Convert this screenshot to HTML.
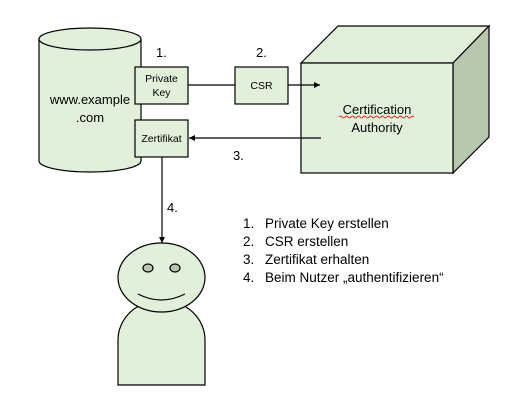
<!DOCTYPE html>
<html><head><meta charset="utf-8"><style>
body{margin:0;background:#fff;}
svg{display:block;font-family:"Liberation Sans",sans-serif;}
</style></head><body>
<svg width="522" height="406" viewBox="0 0 522 406" xmlns="http://www.w3.org/2000/svg">
<defs><marker id="a" markerWidth="6" markerHeight="6" refX="5" refY="3" orient="auto"><path d="M0,0.5 L5,3 L0,5.5z" fill="#000"/></marker></defs>
<g stroke="#000" stroke-width="1.2" fill="#e2efda">
<path d="M39,39 V161 A51,11 0 0 0 141,161 V39"/>
<ellipse cx="90" cy="39" rx="51" ry="11"/>
<path d="M301,63 L338,26 L489,26 L453,63 Z"/>
<path d="M453,63 L489,26 L489,137 L453,173 Z" fill="#b8c6ad"/>
<rect x="301" y="63" width="152" height="110"/>
<rect x="135" y="67" width="53" height="37"/>
<rect x="135" y="120" width="53" height="37"/>
<rect x="235" y="67" width="53" height="37"/>
<path d="M118,385 V340 A43.5,40 0 0 1 205,340 V385 Z"/>
<ellipse cx="161.5" cy="277.5" rx="43.5" ry="34.5"/>
<ellipse cx="148" cy="268" rx="5" ry="4" fill="#bcc5b2"/>
<ellipse cx="175" cy="268" rx="5" ry="4" fill="#bcc5b2"/>
<path d="M138,294 Q161,306 185,294" fill="none"/>
</g>
<g stroke="#000" stroke-width="1.2" fill="none">
<line x1="188" y1="85" x2="235" y2="85"/>
<line x1="288" y1="85" x2="320" y2="85" marker-end="url(#a)"/>
<line x1="321" y1="138" x2="189" y2="138" marker-end="url(#a)"/>
<line x1="162" y1="157" x2="162" y2="243" marker-end="url(#a)"/>
</g>
<g font-size="12" fill="#000">
<text x="90" y="104" text-anchor="middle" font-size="13">www.example</text>
<text x="90" y="122" text-anchor="middle" font-size="13">.com</text>
<text x="161.5" y="82" text-anchor="middle" font-size="10.5">Private</text>
<text x="161.5" y="96" text-anchor="middle" font-size="10.5">Key</text>
<text x="161.5" y="142" text-anchor="middle" font-size="10.5">Zertifikat</text>
<text x="261.5" y="89" text-anchor="middle" font-size="10.5">CSR</text>
<text x="377" y="114" text-anchor="middle" font-size="13">Certification</text>
<text x="377" y="132" text-anchor="middle" font-size="13">Authority</text>
<text x="156" y="57" font-size="13">1.</text>
<text x="256" y="57" font-size="13">2.</text>
<text x="233" y="160" font-size="13">3.</text>
<text x="167" y="212" font-size="13">4.</text>
<g font-size="13.5">
<text x="243" y="228">1.</text><text x="265" y="228">Private Key erstellen</text>
<text x="243" y="246">2.</text><text x="265" y="246">CSR erstellen</text>
<text x="243" y="264">3.</text><text x="265" y="264">Zertifikat erhalten</text>
<text x="243" y="282">4.</text><text x="265" y="282">Beim Nutzer „authentifizieren“</text>
</g>
</g>
<path d="M339,117 q1.5,-2 3,0 t3,0 t3,0 t3,0 t3,0 t3,0 t3,0 t3,0 t3,0 t3,0 t3,0 t3,0 t3,0 t3,0 t3,0 t3,0 t3,0 t3,0 t3,0 t3,0 t3,0 t3,0 t3,0 t3,0 t3,0" stroke="#e00" stroke-width="0.8" fill="none"/>
</svg>
</body></html>
